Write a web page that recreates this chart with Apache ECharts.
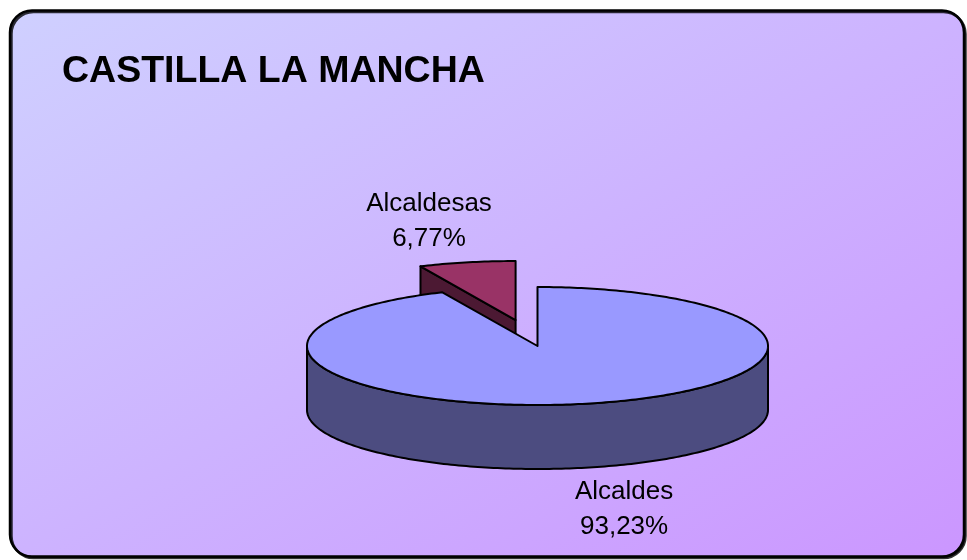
<!DOCTYPE html>
<html>
<head>
<meta charset="utf-8">
<title>CASTILLA LA MANCHA</title>
<script src="https://cdn.jsdelivr.net/npm/echarts@6/dist/echarts.min.js"></script>
<style>
    html, body { margin: 0; padding: 0; background: #fff; }
    #main { width: 967px; height: 560px; }
</style>
</head>
<body>
<div id="main"></div>
<script>
// data
var titleText = 'CASTILLA LA MANCHA';
var categories = ['Alcaldes', 'Alcaldesas'];
var values = [93.23, 6.77];

// look of the 3d pie
var PIE = { cx: 537.5, cy: 346, rx: 230.5, ry: 59, depth: 64 };
var explodeRatio = [0, 0.45];
var topColors = ['#9999ff', '#993366'];
var sideColors = ['#4c4c80', '#4c1933'];
var LABEL_KX = 1.78, LABEL_KY = 1.72;
var FONT = "'Liberation Sans', Arial, sans-serif";

var total = values.reduce(function (s, v) { return s + v; }, 0);
var startAngles = [];
values.reduce(function (acc, v) { startAngles.push(acc); return acc + v / total * 360; }, 0);

// angle in degrees, clockwise from 12 o'clock
function pt(a, ox, oy, dz) {
    var r = a * Math.PI / 180;
    return [PIE.cx + ox + PIE.rx * Math.sin(r), PIE.cy + oy - PIE.ry * Math.cos(r) + dz];
}
function arc(a0, a1, ox, oy, dz) {
    var pts = [], n = Math.max(2, Math.ceil(Math.abs(a1 - a0)));
    for (var i = 0; i <= n; i++) pts.push(pt(a0 + (a1 - a0) * i / n, ox, oy, dz));
    return pts;
}

function renderSlice(params, api) {
    var i = params.dataIndex;
    var v = api.value(0);
    var a0 = startAngles[i], a1 = a0 + v / total * 360;
    var mid = (a0 + a1) / 2, mr = mid * Math.PI / 180;
    var ox = explodeRatio[i] * PIE.rx * Math.sin(mr);
    var oy = -explodeRatio[i] * PIE.ry * Math.cos(mr);
    var c = [PIE.cx + ox, PIE.cy + oy], cb = [c[0], c[1] + PIE.depth];
    var line = { stroke: '#000', lineWidth: 2, lineJoin: 'round' };
    var children = [];

    // front wall
    var s = Math.max(a0, 90), e = Math.min(a1, 270);
    if (e > s) {
        children.push({
            type: 'polygon', z2: 1,
            shape: { points: arc(s, e, ox, oy, 0).concat(arc(e, s, ox, oy, PIE.depth)) },
            style: Object.assign({ fill: sideColors[i] }, line)
        });
    }
    // cut faces turned to the viewer
    [[a0, -1], [a1, 1]].forEach(function (f) {
        if (f[1] * Math.sin(f[0] * Math.PI / 180) > 1e-6) {
            children.push({
                type: 'polygon', z2: 2,
                shape: { points: [c, pt(f[0], ox, oy, 0), pt(f[0], ox, oy, PIE.depth), cb] },
                style: Object.assign({ fill: sideColors[i] }, line)
            });
        }
    });
    // top
    children.push({
        type: 'polygon', z2: 5,
        shape: { points: [c].concat(arc(a0, a1, ox, oy, 0)) },
        style: Object.assign({ fill: topColors[i] }, line)
    });
    // label
    var lx = c[0] + PIE.rx * LABEL_KX * Math.sin(mr);
    var ly = c[1] - PIE.ry * LABEL_KY * Math.cos(mr) + (Math.cos(mr) < 0 ? PIE.depth : 0);
    children.push({
        type: 'text', z2: 10, x: lx, y: ly,
        style: {
            text: categories[i] + '\n' + (v / total * 100).toFixed(2).replace('.', ',') + '%',
            fill: '#000', fontSize: 26, fontFamily: FONT, lineHeight: 35,
            align: 'center', verticalAlign: 'middle'
        }
    });
    return { type: 'group', children: children };
}

var chart = echarts.init(document.getElementById('main'));
chart.setOption({
    animation: false,
    backgroundColor: '#fff',
    title: {
        text: titleText, left: 57, top: 48,
        textStyle: { fontSize: 37.5, fontWeight: 'bold', fontFamily: FONT, color: '#000' }
    },
    graphic: [{
        type: 'rect', z: 0,
        shape: { x: 10, y: 10.5, width: 954, height: 546, r: 22 },
        style: {
            // light lavender top-left to purple bottom-right, isolines along the other diagonal
            fill: new echarts.graphic.LinearGradient(10, 10.5, 481, 833, [
                { offset: 0, color: '#cfd0ff' },
                { offset: 1, color: '#cb96ff' }
            ], true),
            stroke: '#000', lineWidth: 2.5,
            shadowColor: 'rgba(0,0,0,0.8)', shadowOffsetX: 1.5, shadowOffsetY: 1.5
        }
    }],
    series: [{
        type: 'custom',
        coordinateSystem: 'none',
        renderItem: renderSlice,
        data: values.map(function (v, i) { return { name: categories[i], value: [v] }; })
    }]
});
</script>
</body>
</html>
